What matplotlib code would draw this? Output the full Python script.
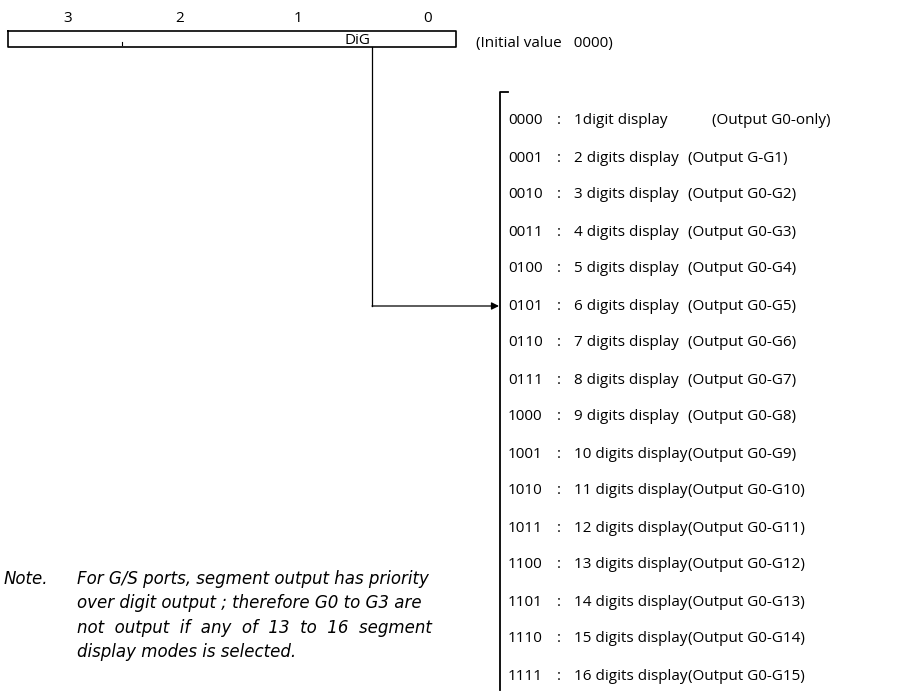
import matplotlib.pyplot as plt
from matplotlib.patches import FancyArrowPatch

# register bits and field
bit_labels = ["3", "2", "1", "0"]
field_name = "DiG"
init_text = "(Initial value   0000)"

# selection table
codes = ["0000", "0001", "0010", "0011", "0100", "0101", "0110", "0111",
         "1000", "1001", "1010", "1011", "1100", "1101", "1110", "1111"]
descs = ["1digit display", "2 digits display", "3 digits display", "4 digits display",
         "5 digits display", "6 digits display", "7 digits display", "8 digits display",
         "9 digits display", "10 digits display", "11 digits display", "12 digits display",
         "13 digits display", "14 digits display", "15 digits display", "16 digits display"]
outputs = ["(Output G0-only)", "(Output G-G1)", "(Output G0-G2)", "(Output G0-G3)",
           "(Output G0-G4)", "(Output G0-G5)", "(Output G0-G6)", "(Output G0-G7)",
           "(Output G0-G8)", "(Output G0-G9)", "(Output G0-G10)", "(Output G0-G11)",
           "(Output G0-G12)", "(Output G0-G13)", "(Output G0-G14)", "(Output G0-G15)"]
selected_row = 5  # arrow points at 0101

note_lines = ["For G/S ports, segment output has priority",
              "over digit output ; therefore G0 to G3 are",
              "not  output  if  any  of  13  to  16  segment",
              "display modes is selected."]

plt.rcParams['font.family'] = ['Open Sans', 'DejaVu Sans']
fs = 11

fig = plt.figure(figsize=(9.18, 6.96), dpi=100)
ax = fig.add_axes([0, 0, 1, 1])
ax.set_xlim(0, 918)
ax.set_ylim(696, 0)
ax.axis('off')

# register box
bx0, bx1, by0, by1 = 8, 456, 31, 47
ax.plot([bx0, bx1, bx1, bx0, bx0], [by0, by0, by1, by1, by0], color='black', lw=1.2)
ax.plot([122, 122], [by1 - 5, by1 - 2], color='black', lw=0.8)
for lbl, x in zip(bit_labels, [68, 180, 298, 428]):
    ax.text(x, 18, lbl, ha='center', va='center', fontsize=fs)
ax.text(357, 40, field_name, ha='center', va='center', fontsize=fs)
ax.text(476, 44, init_text, ha='left', va='center', fontsize=fs)

y0, dy = 121, 37.0

# connector arrow from field to table
ya = y0 + selected_row * dy
ax.plot([372, 372], [by1, ya], color='black', lw=0.9)
arr = FancyArrowPatch((372, ya), (499, ya), arrowstyle='-|>', mutation_scale=11,
                      color='black', lw=0.9, shrinkA=0, shrinkB=0)
ax.add_patch(arr)

# bracket
ax.plot([508, 500, 500], [92, 92, 690], color='black', lw=1.3)

for i, (c, d, o) in enumerate(zip(codes, descs, outputs)):
    y = y0 + i * dy
    ax.text(508, y, c, ha='left', va='center', fontsize=fs)
    ax.text(557, y, ":", ha='left', va='center', fontsize=fs)
    ax.text(574, y, d, ha='left', va='center', fontsize=fs)
    ax.text(712 if i == 0 else 688, y, o, ha='left', va='center', fontsize=fs)

# note
note_font = ['DejaVu Sans']
ax.text(4, 579, "Note.", ha='left', va='center', fontsize=12, style='italic',
        family=note_font)
for i, line in enumerate(note_lines):
    ax.text(77, 579 + i * 24.3, line, ha='left', va='center', fontsize=12,
            style='italic', family=note_font)

fig.savefig("out.png", dpi=100)
